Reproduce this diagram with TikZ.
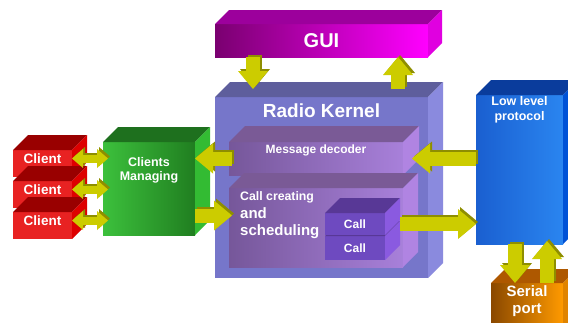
\documentclass[tikz,border=0pt]{standalone}
\usepackage{fontspec}
\setmainfont{Liberation Sans}
\usetikzlibrary{arrows.meta, calc, positioning}

\definecolor{guiL}{HTML}{7A0070}
\definecolor{guiR}{HTML}{FF00FF}
\definecolor{guiT}{HTML}{9C009C}
\definecolor{guiS}{HTML}{E000E0}
\definecolor{kerF}{HTML}{7676CA}
\definecolor{kerT}{HTML}{5E5E9C}
\definecolor{kerS}{HTML}{8A8ADE}
\definecolor{subL}{HTML}{76579A}
\definecolor{subR}{HTML}{A880DA}
\definecolor{subT}{HTML}{7A5A96}
\definecolor{subS}{HTML}{B084E2}
\definecolor{callF}{HTML}{6E4AC0}
\definecolor{callT}{HTML}{583896}
\definecolor{callS}{HTML}{8A5AE0}
\definecolor{mgrL}{HTML}{3CC03C}
\definecolor{mgrR}{HTML}{207E20}
\definecolor{mgrT}{HTML}{1E701E}
\definecolor{mgrS}{HTML}{33BB33}
\definecolor{cliF}{HTML}{E82222}
\definecolor{cliT}{HTML}{990000}
\definecolor{cliS}{HTML}{DD0000}
\definecolor{lowL}{HTML}{1A5FD0}
\definecolor{lowR}{HTML}{2A85F0}
\definecolor{lowT}{HTML}{0A3C9C}
\definecolor{lowS}{HTML}{0052D6}
\definecolor{serL}{HTML}{8A4800}
\definecolor{serR}{HTML}{FF9A00}
\definecolor{serT}{HTML}{AE5800}
\definecolor{serS}{HTML}{E08400}
\definecolor{arrowyel}{HTML}{CCCC00}
\definecolor{arrowdark}{HTML}{8E8E00}

\tikzset{
	face/.style={inner sep=0pt, outer sep=0pt, anchor=north west},
	lbl/.style={text=white, align=center, inner sep=0pt},
	flow/.style={line width=14pt, -{Triangle[width=30pt,length=18pt,line width=0pt]}},
	twoway/.style={line width=8pt,
		{Triangle[width=19pt,length=11pt,line width=0pt]}-{Triangle[width=19pt,length=11pt,line width=0pt]}},
}

% top and side face of a block: node, depth, top colour, side colour
\newcommand{\sides}[4]{
	\fill[#3] (#1.north west) -- ++(#2,-#2) -- ($(#1.north east)+(#2,-#2)$) -- (#1.north east) -- cycle;
	\fill[#4] (#1.north east) -- ++(#2,-#2) -- ($(#1.south east)+(#2,-#2)$) -- (#1.south east) -- cycle;
}
% block arrow with a darker back: style, from, to
\newcommand{\flowarrow}[3]{
	\draw[#1, draw=arrowdark, transform canvas={shift={(2pt,2pt)}}] #2 -- #3;
	\draw[#1, draw=arrowyel] #2 -- #3;
}

\begin{document}
\begin{tikzpicture}[x=1pt, y=-1pt]
	\clip (0,0) rectangle (568,322);
	\fill[white] (0,0) rectangle (568,322);

	% GUI
	\node[face, left color=guiL, right color=guiR, minimum width=213pt, minimum height=33pt] (gui) at (215,24) {};
	\sides{gui}{14}{guiT}{guiS}
	\node[lbl, font=\bfseries\fontsize{20}{22}\selectfont] (guitext) at (gui) {GUI};

	% radio kernel
	\node[face, fill=kerF, minimum width=213pt, minimum height=181pt] (kernel) at (215,97) {};
	\sides{kernel}{15}{kerT}{kerS}
	\node[lbl, font=\bfseries\fontsize{19}{21}\selectfont] (kerneltext) at ([yshift=-14pt]kernel.north) {Radio Kernel};

	\node[face, left color=subL, right color=subR, minimum width=174pt, minimum height=33pt] (msg) at (229,142) {};
	\sides{msg}{16}{subT}{subS}
	\node[lbl, font=\bfseries\fontsize{12}{14}\selectfont] (msgtext) at ([yshift=8pt]msg.center) {Message decoder};

	\node[face, left color=subL, right color=subR, minimum width=174pt, minimum height=79pt] (cc) at (229,188) {};
	\sides{cc}{15}{subT}{subS}
	\node[lbl, anchor=north west, font=\bfseries\fontsize{12.3}{14}\selectfont] (cctitle) at ($(cc.north west)+(11,3)$) {Call creating};
	\node[lbl, anchor=north west, align=left, font=\bfseries\fontsize{15}{17}\selectfont] (cctext) at ($(cctitle.south west)+(0,5)$) {and\\scheduling};

	\node[face, fill=callF, minimum width=60pt, minimum height=24pt] (call2) at (325,236) {};
	\sides{call2}{15}{callT}{callS}
	\node[face, fill=callF, minimum width=60pt, minimum height=22pt] (call1) at (325,213) {};
	\sides{call1}{15}{callT}{callS}
	\node[lbl, font=\bfseries\fontsize{12}{14}\selectfont] (call1text) at (call1) {Call};
	\node[lbl, font=\bfseries\fontsize{12}{14}\selectfont] (call2text) at (call2) {Call};

	% clients
	\node[face, left color=mgrL, right color=mgrR, minimum width=92pt, minimum height=93pt] (mgr) at (103,142) {};
	\sides{mgr}{15}{mgrT}{mgrS}
	\node[lbl, font=\bfseries\fontsize{12.5}{14}\selectfont] (mgrtext) at ([yshift=-28pt]mgr.north) {Clients\\Managing};

	\foreach \i in {1,2,3} {
		\node[face, fill=cliF, minimum width=59pt, minimum height=27pt] (c\i) at (13,{150+31*(\i-1)}) {};
		\sides{c\i}{15}{cliT}{cliS}
		\node[lbl, font=\bfseries\fontsize{13.5}{15}\selectfont] (c\i text) at ([yshift=5pt]c\i.center) {Client};
	}

	% low level side
	\node[face, left color=lowL, right color=lowR, minimum width=87pt, minimum height=149pt] (low) at (476,95) {};
	\sides{low}{15}{lowT}{lowS}
	\node[lbl, font=\bfseries\fontsize{12.5}{15}\selectfont] (lowtext) at ([yshift=-15pt]low.north) {Low level\\protocol};

	\node[face, left color=serL, right color=serR, minimum width=72pt, minimum height=45pt] (serial) at (491,283) {};
	\sides{serial}{14}{serT}{serS}
	\node[lbl, font=\bfseries\fontsize{15}{17}\selectfont] (serialtext) at ([yshift=-18pt]serial.north) {Serial\\port};

	% arrows
	\flowarrow{flow}{($(gui.south west)+(38,0)$)}{($(kernel.north west)+(38,-8)$)}
	\flowarrow{flow}{($(kernel.north west)+(183,-8)$)}{($(gui.south west)+(183,0)$)}
	\flowarrow{flow}{($(msg.west)+(3,0)$)}{(mgr.east |- msg.west)}
	\flowarrow{flow}{($(mgr.east |- cc.west)+(0,-12)$)}{($(cc.west)+(3,-12)$)}
	\flowarrow{flow}{(low.west |- msg.east)}{($(msg.east)+(9,0)$)}
	\flowarrow{flow}{($(call1.east)+(15,0)$)}{(low.west |- call1.east)}
	\flowarrow{flow}{($(low.south west)+(39,0)$)}{($(serial.north west)+(24,0)$)}
	\flowarrow{flow}{($(serial.north west)+(56,0)$)}{($(low.south west)+(71,-3)$)}
	\foreach \i in {1,2,3} {
		\flowarrow{twoway}{([yshift=5pt]c\i.east)}{($(mgr.west |- c\i.east)+(5,-5)$)}
	}
\end{tikzpicture}
\end{document}
